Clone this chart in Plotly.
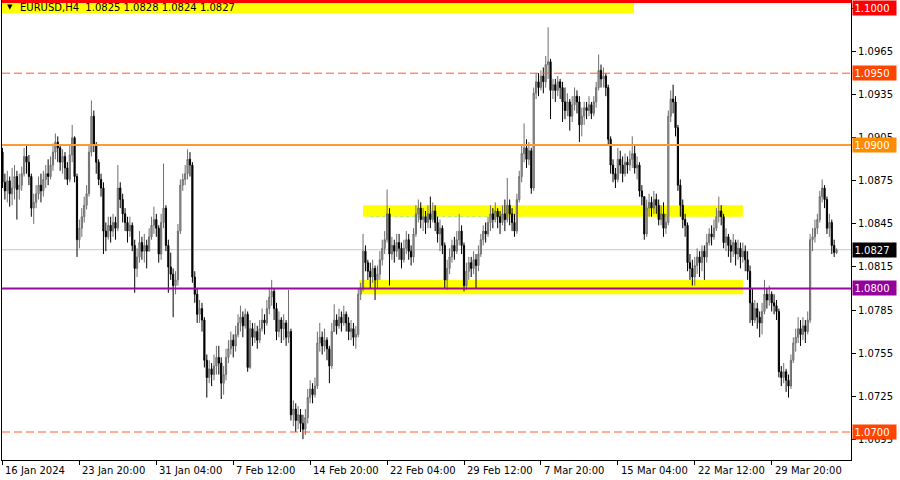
import plotly.graph_objects as go

# ---------------- data (EURUSD H4) ----------------
first_open = 1.0895
closes = [
    1.0874, 1.0868, 1.0875, 1.0866, 1.0870, 1.0878, 1.0869, 1.0872, 1.0880, 1.0892,
    1.0888, 1.0878, 1.0856, 1.0860, 1.0866, 1.0872, 1.0868, 1.0876, 1.0880, 1.0878,
    1.0886, 1.0895, 1.0902, 1.0898, 1.0888, 1.0892, 1.0884, 1.0876, 1.0893, 1.0905,
    1.0878, 1.0834, 1.0842, 1.0850, 1.0858, 1.0866, 1.0895, 1.0920, 1.0900, 1.0888,
    1.0876, 1.0870, 1.0840, 1.0836, 1.0844, 1.0840, 1.0846, 1.0842, 1.0870, 1.0862,
    1.0852, 1.0846, 1.0840, 1.0844, 1.0830, 1.0814, 1.0822, 1.0832, 1.0826, 1.0830,
    1.0826, 1.0836, 1.0844, 1.0848, 1.0842, 1.0824, 1.0846, 1.0856, 1.0830, 1.0815,
    1.0810, 1.0802, 1.0806, 1.0840, 1.0872, 1.0876, 1.0880, 1.0890, 1.0886, 1.0808,
    1.0796, 1.0782, 1.0786, 1.0778, 1.0750, 1.0738, 1.0744, 1.0740, 1.0746, 1.0752,
    1.0748, 1.0734, 1.0740, 1.0752, 1.0758, 1.0764, 1.0760, 1.0768, 1.0776, 1.0780,
    1.0774, 1.0782, 1.0745, 1.0772, 1.0766, 1.0770, 1.0764, 1.0772, 1.0778, 1.0776,
    1.0786, 1.0794, 1.0798, 1.0786, 1.0770, 1.0778, 1.0772, 1.0776, 1.0766, 1.0770,
    1.0712, 1.0716, 1.0708, 1.0712, 1.0706, 1.0702, 1.0710, 1.0724, 1.0730, 1.0726,
    1.0732, 1.0762, 1.0766, 1.0760, 1.0764, 1.0758, 1.0746, 1.0770, 1.0778, 1.0774,
    1.0780, 1.0776, 1.0782, 1.0776, 1.0770, 1.0772, 1.0766, 1.0768, 1.0796, 1.0800,
    1.0826, 1.0818, 1.0812, 1.0808, 1.0814, 1.0806, 1.0810, 1.0820, 1.0828, 1.0834,
    1.0852, 1.0824, 1.0830, 1.0826, 1.0832, 1.0828, 1.0820, 1.0828, 1.0834, 1.0826,
    1.0822, 1.0838, 1.0852, 1.0856, 1.0848, 1.0850, 1.0846, 1.0852, 1.0848, 1.0854,
    1.0846, 1.0838, 1.0842, 1.0830, 1.0806, 1.0814, 1.0822, 1.0830, 1.0826, 1.0834,
    1.0840, 1.0830, 1.0802, 1.0812, 1.0818, 1.0814, 1.0820, 1.0816, 1.0824, 1.0834,
    1.0840, 1.0838, 1.0846, 1.0852, 1.0848, 1.0854, 1.0850, 1.0846, 1.0852, 1.0848,
    1.0858, 1.0852, 1.0846, 1.0840, 1.0862, 1.0878, 1.0894, 1.0898, 1.0890, 1.0896,
    1.0870, 1.0936, 1.0944, 1.0940, 1.0948, 1.0944, 1.0956, 1.0958, 1.0938, 1.0942,
    1.0938, 1.0944, 1.0940, 1.0930, 1.0924, 1.0930, 1.0920, 1.0928, 1.0934, 1.0930,
    1.0914, 1.0920, 1.0926, 1.0924, 1.0928, 1.0922, 1.0930, 1.0940, 1.0952, 1.0946,
    1.0948, 1.0940, 1.0904, 1.0886, 1.0880, 1.0876, 1.0890, 1.0886, 1.0880, 1.0888,
    1.0886, 1.0890, 1.0894, 1.0884, 1.0886, 1.0868, 1.0864, 1.0838, 1.0856, 1.0860,
    1.0856, 1.0862, 1.0858, 1.0848, 1.0852, 1.0842, 1.0846, 1.0920, 1.0932, 1.0930,
    1.0912, 1.0872, 1.0858, 1.0848, 1.0844, 1.0818, 1.0814, 1.0808, 1.0816, 1.0822,
    1.0818, 1.0826, 1.0822, 1.0832, 1.0838, 1.0836, 1.0842, 1.0850, 1.0854, 1.0850,
    1.0832, 1.0836, 1.0830, 1.0826, 1.0832, 1.0824, 1.0828, 1.0822, 1.0826, 1.0820,
    1.0812, 1.0790, 1.0778, 1.0786, 1.0780, 1.0776, 1.0784, 1.0796, 1.0792, 1.0796,
    1.0790, 1.0788, 1.0784, 1.0742, 1.0738, 1.0742, 1.0736, 1.0732, 1.0750, 1.0762,
    1.0766, 1.0772, 1.0768, 1.0774, 1.0770, 1.0778, 1.0834, 1.0836, 1.0842, 1.0848,
    1.0864, 1.0870, 1.0862, 1.0842, 1.0846, 1.0830, 1.0825, 1.0827,
]
highs = [
    1.0898, 1.0880, 1.0882, 1.0878, 1.0884, 1.0886, 1.0882, 1.0880, 1.0885, 1.0898,
    1.0900, 1.0893, 1.0880, 1.0866, 1.0872, 1.0878, 1.0880, 1.0882, 1.0886, 1.0890,
    1.0892, 1.0901, 1.0908, 1.0906, 1.0900, 1.0897, 1.0895, 1.0888, 1.0900, 1.0914,
    1.0906, 1.0880, 1.0848, 1.0856, 1.0864, 1.0872, 1.0900, 1.0931, 1.0924, 1.0902,
    1.0890, 1.0880, 1.0874, 1.0846, 1.0850, 1.0850, 1.0852, 1.0850, 1.0886, 1.0874,
    1.0866, 1.0856, 1.0850, 1.0850, 1.0846, 1.0834, 1.0828, 1.0840, 1.0836, 1.0838,
    1.0834, 1.0842, 1.0850, 1.0857, 1.0852, 1.0844, 1.0852, 1.0887, 1.0858, 1.0834,
    1.0825, 1.0814, 1.0812, 1.0845, 1.0876, 1.0880, 1.0886, 1.0897, 1.0895, 1.0888,
    1.0812, 1.0800, 1.0792, 1.0790, 1.0780, 1.0754, 1.0750, 1.0748, 1.0754, 1.0760,
    1.0760, 1.0752, 1.0746, 1.0758, 1.0764, 1.0770, 1.0768, 1.0774, 1.0782, 1.0788,
    1.0784, 1.0786, 1.0784, 1.0778, 1.0776, 1.0776, 1.0774, 1.0778, 1.0786, 1.0782,
    1.0792, 1.0800, 1.0806, 1.0800, 1.0790, 1.0784, 1.0780, 1.0782, 1.0778, 1.0799,
    1.0772, 1.0722, 1.0720, 1.0718, 1.0716, 1.0712, 1.0716, 1.0730, 1.0736, 1.0734,
    1.0738, 1.0770, 1.0776, 1.0770, 1.0772, 1.0766, 1.0760, 1.0776, 1.0789, 1.0782,
    1.0786, 1.0784, 1.0788, 1.0784, 1.0780, 1.0778, 1.0776, 1.0774, 1.0800, 1.0804,
    1.0838, 1.0830, 1.0820, 1.0818, 1.0820, 1.0816, 1.0816, 1.0826, 1.0834, 1.0840,
    1.0869, 1.0856, 1.0836, 1.0834, 1.0838, 1.0838, 1.0832, 1.0834, 1.0840, 1.0838,
    1.0830, 1.0842, 1.0858, 1.0862, 1.0860, 1.0856, 1.0854, 1.0858, 1.0864, 1.0860,
    1.0858, 1.0850, 1.0848, 1.0844, 1.0832, 1.0820, 1.0828, 1.0834, 1.0836, 1.0840,
    1.0852, 1.0844, 1.0832, 1.0818, 1.0822, 1.0822, 1.0826, 1.0824, 1.0830, 1.0838,
    1.0844, 1.0846, 1.0850, 1.0858, 1.0856, 1.0860, 1.0856, 1.0854, 1.0858, 1.0862,
    1.0877, 1.0862, 1.0856, 1.0852, 1.0866, 1.0882, 1.0900, 1.0915, 1.0904, 1.0902,
    1.0898, 1.0940, 1.0950, 1.0950, 1.0952, 1.0954, 1.0962, 1.0982, 1.0960, 1.0946,
    1.0946, 1.0948, 1.0946, 1.0944, 1.0940, 1.0936, 1.0932, 1.0934, 1.0940, 1.0938,
    1.0934, 1.0926, 1.0930, 1.0930, 1.0934, 1.0930, 1.0934, 1.0944, 1.0963, 1.0956,
    1.0954, 1.0950, 1.0942, 1.0906, 1.0890, 1.0884, 1.0898, 1.0896, 1.0892, 1.0894,
    1.0892, 1.0896, 1.0906, 1.0900, 1.0892, 1.0888, 1.0872, 1.0864, 1.0862, 1.0866,
    1.0864, 1.0868, 1.0866, 1.0862, 1.0858, 1.0860, 1.0852, 1.0924, 1.0938, 1.0942,
    1.0934, 1.0914, 1.0876, 1.0862, 1.0852, 1.0846, 1.0824, 1.0820, 1.0822, 1.0828,
    1.0826, 1.0830, 1.0830, 1.0838, 1.0842, 1.0844, 1.0848, 1.0856, 1.0864, 1.0858,
    1.0852, 1.0842, 1.0838, 1.0834, 1.0838, 1.0834, 1.0834, 1.0832, 1.0832, 1.0830,
    1.0826, 1.0816, 1.0800, 1.0792, 1.0790, 1.0784, 1.0790, 1.0806, 1.0800, 1.0802,
    1.0798, 1.0796, 1.0792, 1.0786, 1.0746, 1.0748, 1.0744, 1.0740, 1.0754, 1.0766,
    1.0772, 1.0780, 1.0778, 1.0780, 1.0778, 1.0784, 1.0838, 1.0842, 1.0848, 1.0852,
    1.0868, 1.0876, 1.0872, 1.0864, 1.0852, 1.0848, 1.0834, 1.0828,
]
lows = [
    1.0870, 1.0862, 1.0860, 1.0857, 1.0858, 1.0862, 1.0848, 1.0862, 1.0868, 1.0878,
    1.0880, 1.0872, 1.0850, 1.0845, 1.0856, 1.0862, 1.0860, 1.0864, 1.0870, 1.0872,
    1.0876, 1.0882, 1.0890, 1.0888, 1.0882, 1.0880, 1.0876, 1.0872, 1.0874, 1.0888,
    1.0874, 1.0822, 1.0828, 1.0836, 1.0846, 1.0855, 1.0864, 1.0892, 1.0895, 1.0880,
    1.0872, 1.0864, 1.0824, 1.0826, 1.0834, 1.0832, 1.0836, 1.0834, 1.0840, 1.0856,
    1.0846, 1.0840, 1.0832, 1.0836, 1.0826, 1.0797, 1.0808, 1.0818, 1.0820, 1.0818,
    1.0814, 1.0826, 1.0834, 1.0838, 1.0836, 1.0818, 1.0820, 1.0842, 1.0826, 1.0797,
    1.0806, 1.0780, 1.0796, 1.0802, 1.0838, 1.0868, 1.0872, 1.0876, 1.0878, 1.0804,
    1.0790, 1.0776, 1.0776, 1.0770, 1.0745, 1.0724, 1.0734, 1.0732, 1.0736, 1.0740,
    1.0740, 1.0723, 1.0726, 1.0736, 1.0748, 1.0754, 1.0752, 1.0756, 1.0766, 1.0770,
    1.0766, 1.0772, 1.0742, 1.0744, 1.0760, 1.0762, 1.0758, 1.0762, 1.0770, 1.0768,
    1.0774, 1.0782, 1.0788, 1.0778, 1.0764, 1.0766, 1.0762, 1.0764, 1.0760, 1.0762,
    1.0708, 1.0704, 1.0700, 1.0702, 1.0700, 1.0695, 1.0698, 1.0706, 1.0720, 1.0720,
    1.0724, 1.0730, 1.0756, 1.0754, 1.0756, 1.0750, 1.0734, 1.0744, 1.0770, 1.0768,
    1.0772, 1.0770, 1.0774, 1.0770, 1.0764, 1.0764, 1.0760, 1.0758, 1.0766, 1.0792,
    1.0798, 1.0812, 1.0806, 1.0800, 1.0804, 1.0792, 1.0800, 1.0806, 1.0816, 1.0824,
    1.0832, 1.0802, 1.0820, 1.0818, 1.0822, 1.0820, 1.0814, 1.0818, 1.0824, 1.0820,
    1.0816, 1.0818, 1.0836, 1.0846, 1.0842, 1.0840, 1.0838, 1.0842, 1.0842, 1.0846,
    1.0840, 1.0832, 1.0826, 1.0824, 1.0800, 1.0799, 1.0810, 1.0818, 1.0820, 1.0824,
    1.0830, 1.0824, 1.0798, 1.0799, 1.0806, 1.0808, 1.0810, 1.0800, 1.0812, 1.0822,
    1.0830, 1.0832, 1.0836, 1.0840, 1.0842, 1.0846, 1.0842, 1.0838, 1.0844, 1.0840,
    1.0846, 1.0844, 1.0840, 1.0836, 1.0838, 1.0860, 1.0874, 1.0888, 1.0884, 1.0886,
    1.0866, 1.0868, 1.0932, 1.0934, 1.0938, 1.0936, 1.0940, 1.0946, 1.0918, 1.0932,
    1.0930, 1.0934, 1.0932, 1.0916, 1.0918, 1.0920, 1.0910, 1.0916, 1.0924, 1.0922,
    1.0902, 1.0906, 1.0914, 1.0918, 1.0920, 1.0918, 1.0920, 1.0926, 1.0938, 1.0940,
    1.0940, 1.0934, 1.0900, 1.0880, 1.0874, 1.0870, 1.0874, 1.0880, 1.0874, 1.0878,
    1.0880, 1.0882, 1.0884, 1.0880, 1.0876, 1.0864, 1.0858, 1.0834, 1.0836, 1.0850,
    1.0850, 1.0852, 1.0852, 1.0844, 1.0844, 1.0836, 1.0838, 1.0844, 1.0916, 1.0922,
    1.0906, 1.0868, 1.0850, 1.0842, 1.0836, 1.0812, 1.0806, 1.0802, 1.0802, 1.0810,
    1.0808, 1.0812, 1.0806, 1.0818, 1.0830, 1.0830, 1.0834, 1.0840, 1.0846, 1.0844,
    1.0828, 1.0826, 1.0822, 1.0818, 1.0822, 1.0816, 1.0820, 1.0814, 1.0818, 1.0812,
    1.0806, 1.0776, 1.0774, 1.0776, 1.0772, 1.0766, 1.0768, 1.0782, 1.0786, 1.0788,
    1.0784, 1.0782, 1.0778, 1.0738, 1.0732, 1.0734, 1.0728, 1.0724, 1.0730, 1.0748,
    1.0756, 1.0762, 1.0760, 1.0764, 1.0762, 1.0768, 1.0776, 1.0826, 1.0832, 1.0838,
    1.0846, 1.0860, 1.0856, 1.0838, 1.0836, 1.0824, 1.0822, 1.0824,
]

# x-axis labels every 32 bars
tick_bars = [0, 32, 64, 96, 128, 160, 192, 224, 256, 288, 320]
tick_labels = ["16 Jan 2024", "23 Jan 20:00", "31 Jan 04:00", "7 Feb 12:00",
               "14 Feb 20:00", "22 Feb 04:00", "29 Feb 12:00", "7 Mar 20:00",
               "15 Mar 04:00", "22 Mar 12:00", "29 Mar 20:00"]

# horizontal levels: (price, colour, dash, width)
levels = [
    (1.1000, "#ff0000", "solid", 3),
    (1.0950, "#ff5a28", "8px,4px", 1),
    (1.0900, "#ff9933", "solid", 2),
    (1.0800, "#9a0aa0", "solid", 2),
    (1.0700, "#ff5a28", "8px,4px", 1),
]
current_price = 1.0827
price_boxes = [
    (1.1000, "#ff0000"), (1.0950, "#ff4500"), (1.0900, "#ff8c00"),
    (1.0827, "#000000"), (1.0800, "#93009b"), (1.0700, "#ff4500"),
]
# zones: (bar start, bar end, price low, price high)
zones = [
    (-1, 262.7, 1.0992, 1.1000),
    (150.0, 308.0, 1.0850, 1.0858),
    (148.4, 308.0, 1.0796, 1.0806),
]
ytick_vals = [1.0695, 1.0725, 1.0755, 1.0785, 1.0815, 1.0845, 1.0875, 1.0905, 1.0935, 1.0965, 1.0995]

# ---------------- build ----------------
n = min(len(closes), len(highs), len(lows))
closes, highs, lows = closes[:n], highs[:n], lows[:n]
opens = [first_open] + closes[:-1]
highs = [max(h, o, c) for h, o, c in zip(highs, opens, closes)]
lows = [min(l, o, c) for l, o, c in zip(lows, opens, closes)]
xs = list(range(n))

FONT = "DejaVu Sans"
Y_MAX = 1.10010

fig = go.Figure()
fig.add_trace(go.Candlestick(
    x=xs, open=opens, high=highs, low=lows, close=closes,
    increasing=dict(line=dict(color="#6e6e6e", width=1), fillcolor="#a8a8a8"),
    decreasing=dict(line=dict(color="#000000", width=1), fillcolor="#000000"),
    whiskerwidth=0, showlegend=False, hoverinfo="skip",
))

shapes = []
for x0, x1, y0, y1 in zones:
    shapes.append(dict(type="rect", xref="x", yref="y", x0=x0, x1=x1, y0=y0, y1=y1,
                       fillcolor="#ffff00", line=dict(width=0), layer="below"))
# faint green dotted line at lower edge of upper zone
shapes.append(dict(type="line", xref="x", yref="y", x0=153, x1=210, y0=1.0850, y1=1.0850,
                   line=dict(color="#9be89b", width=1, dash="dot"), layer="below"))
shapes.append(dict(type="line", xref="paper", yref="y", x0=0, x1=1, y0=current_price, y1=current_price,
                   line=dict(color="#c8c8c8", width=1), layer="below"))
for p, col, dash, w in levels:
    shapes.append(dict(type="line", xref="paper", yref="y", x0=0, x1=1, y0=p, y1=p,
                       line=dict(color=col, width=w, dash=dash), layer="above"))

annotations = []
for b, t in zip(tick_bars, tick_labels):
    annotations.append(dict(x=b, xref="x", y=-10 / 460, yref="paper", text=t,
                            showarrow=False, xanchor="left", yanchor="middle", xshift=1,
                            font=dict(family=FONT, size=10, color="#000000")))
for p, col in price_boxes:
    box = dict(x=1, xref="paper", text="%.4f" % p,
               showarrow=False, xanchor="left", xshift=1,
               align="left", width=40, height=11, borderpad=1.5, bgcolor=col,
               font=dict(family=FONT, size=10, color="#ffffff"))
    if p >= Y_MAX - 0.0004:
        # label clamped inside the window at the top edge
        box.update(y=1, yref="paper", yanchor="top")
    else:
        box.update(y=p, yref="y", yanchor="middle")
    annotations.append(box)
annotations.append(dict(x=0.004, xref="paper", y=1 - 7.5 / 460, yref="paper", text="▼",
                        showarrow=False, xanchor="left", yanchor="middle",
                        font=dict(family=FONT, size=7, color="#000000")))
annotations.append(dict(x=0.019, xref="paper", y=1 - 7.5 / 460, yref="paper",
                        text="EURUSD,H4  1.0825 1.0828 1.0824 1.0827",
                        showarrow=False, xanchor="left", yanchor="middle",
                        font=dict(family=FONT, size=10, color="#000000")))

fig.update_layout(
    width=900, height=480,
    margin=dict(l=2, r=49, t=0, b=20, pad=0),
    paper_bgcolor="#ffffff", plot_bgcolor="#ffffff",
    shapes=shapes, annotations=annotations,
    showlegend=False, hovermode=False,
    xaxis=dict(range=[-0.2, 353.0], rangeslider=dict(visible=False), showgrid=False,
               zeroline=False, showline=True, linecolor="#000000", linewidth=1,
               tickvals=tick_bars, showticklabels=False, ticks="outside", ticklen=4,
               tickcolor="#000000", fixedrange=True),
    yaxis=dict(side="right", range=[1.06805, Y_MAX], showgrid=False, zeroline=False,
               showline=True, mirror=True, linecolor="#000000", linewidth=1,
               tickvals=ytick_vals, tickformat=".4f", ticks="outside", ticklen=4,
               tickcolor="#000000",
               tickfont=dict(family=FONT, size=10, color="#000000"), fixedrange=True),
)

fig.write_html("out.html", config={"displayModeBar": False},
               post_script="document.body.style.margin='0';document.body.style.padding='0';")
